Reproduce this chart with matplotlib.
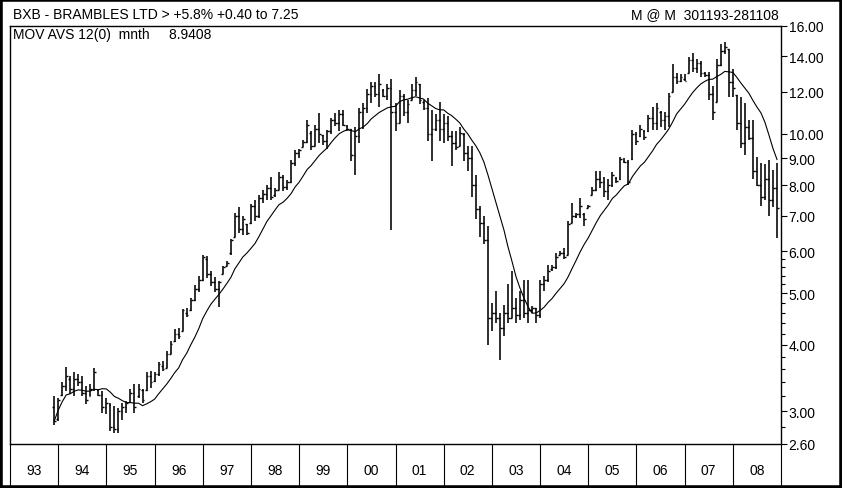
import numpy as np
import pandas as pd
import matplotlib
matplotlib.use("Agg")
import matplotlib.pyplot as plt
import matplotlib.transforms as mtransforms
from matplotlib.patches import Rectangle
from matplotlib.ticker import FixedLocator, FixedFormatter, NullFormatter

plt.rcParams['font.family'] = ['Liberation Sans', 'DejaVu Sans']

# monthly bars Nov 1993 .. Nov 2008 (month index counted from Jan 1993, drawn at month end)
first_month = 11
opens = [3.05, 2.90, 3.22, 3.35, 3.45, 3.30, 3.45, 3.40, 3.25, 3.20, 3.30, 3.28,
         3.22, 3.05, 3.08, 2.80, 2.78, 3.00, 3.05, 3.12, 3.25, 3.20, 3.28, 3.28,
         3.50, 3.42, 3.52, 3.65, 3.62, 3.85, 4.06, 4.20, 4.25, 4.60, 4.65, 4.86,
         5.10, 5.30, 5.80, 5.45, 5.25, 5.10, 5.45, 5.62, 5.95, 6.40, 7.00, 6.60,
         6.75, 6.80, 7.30, 7.00, 7.55, 7.70, 7.90, 7.65, 7.85, 8.30, 7.95, 8.10,
         8.80, 9.20, 9.46, 9.65, 10.05, 9.50, 10.20, 9.95, 9.70, 10.10, 10.60, 10.50,
         10.90, 10.35, 10.20, 9.10, 9.90, 11.00, 11.20, 11.90, 12.30, 11.90, 12.10, 11.80,
         12.20, 11.00, 10.50, 11.80, 11.00, 11.60, 12.10, 12.40, 11.50, 11.20, 10.00, 10.20,
         10.60, 10.20, 10.50, 9.90, 9.60, 9.50, 10.00, 9.20, 9.00, 8.00, 7.20, 6.80,
         6.30, 4.50, 4.60, 4.50, 4.30, 4.60, 4.50, 4.70, 4.55, 4.85, 4.60, 4.65,
         4.70, 4.55, 5.20, 5.30, 5.55, 5.60, 5.90, 5.95, 5.90, 6.80, 7.00, 7.05,
         7.05, 7.25, 7.65, 7.85, 8.20, 8.10, 7.80, 8.00, 8.25, 8.20, 8.90, 8.85,
         8.95, 10.00, 9.90, 10.10, 10.10, 10.70, 10.50, 11.00, 10.60, 10.80, 12.00, 12.80,
         12.60, 12.70, 13.00, 13.80, 13.30, 13.60, 13.00, 12.90, 11.90, 11.50, 13.50, 14.30,
         14.45, 12.50, 11.85, 10.50, 9.60, 10.30, 9.80, 8.50, 8.00, 7.60, 8.20, 7.50,
         7.90]
highs = [3.20, 3.17, 3.40, 3.63, 3.49, 3.55, 3.53, 3.49, 3.34, 3.38, 3.61, 3.30,
         3.27, 3.17, 3.10, 3.06, 3.04, 3.11, 3.13, 3.30, 3.38, 3.38, 3.30, 3.55,
         3.57, 3.55, 3.71, 3.73, 3.89, 4.07, 4.29, 4.31, 4.68, 4.70, 4.91, 5.19,
         5.40, 5.91, 5.89, 5.52, 5.36, 5.28, 5.64, 5.76, 6.34, 7.10, 7.26, 7.00,
         6.77, 7.38, 7.50, 7.65, 7.82, 8.00, 8.28, 7.89, 8.46, 8.35, 8.17, 8.92,
         9.30, 9.36, 9.73, 10.62, 10.10, 10.40, 10.96, 9.95, 10.17, 10.70, 10.96, 11.10,
         11.10, 10.40, 10.20, 10.30, 11.20, 11.45, 12.12, 12.50, 12.50, 12.94, 12.12, 12.39,
         12.66, 11.45, 12.10, 11.90, 11.60, 12.40, 12.80, 12.40, 11.60, 11.70, 11.10, 10.90,
         11.50, 10.90, 10.80, 10.10, 10.10, 10.30, 10.05, 9.50, 9.50, 8.35, 7.30, 7.00,
         6.70, 4.80, 5.05, 4.60, 4.75, 5.20, 5.50, 4.90, 5.05, 5.30, 5.30, 4.74,
         4.70, 5.30, 5.40, 5.65, 5.65, 5.95, 6.00, 6.10, 6.85, 7.40, 7.10, 7.55,
         7.10, 7.35, 7.95, 8.50, 8.50, 8.30, 8.20, 8.46, 8.27, 9.03, 9.00, 8.92,
         10.17, 10.08, 10.39, 10.17, 10.86, 11.25, 11.45, 11.05, 11.00, 11.96, 13.52, 12.99,
         12.94, 12.94, 13.95, 14.20, 13.83, 13.70, 13.10, 13.10, 12.30, 13.83, 14.77, 14.90,
         14.45, 13.23, 11.85, 11.75, 11.45, 10.62, 10.62, 9.03, 8.80, 8.76, 8.92, 8.54,
         8.80]
lows = [2.82, 2.87, 3.20, 3.27, 3.23, 3.20, 3.34, 3.20, 3.09, 3.20, 3.27, 3.20,
        2.98, 2.96, 2.75, 2.73, 2.73, 2.89, 2.98, 3.11, 2.98, 3.17, 3.11, 3.27,
        3.32, 3.40, 3.49, 3.57, 3.62, 3.85, 4.05, 4.11, 4.25, 4.51, 4.63, 4.84,
        5.02, 5.28, 5.34, 5.17, 5.03, 4.72, 5.45, 5.62, 5.90, 6.40, 6.50, 6.45,
        6.43, 6.77, 6.86, 6.95, 7.40, 7.50, 7.49, 7.60, 7.82, 7.80, 7.82, 8.06,
        8.70, 9.00, 9.46, 9.62, 9.32, 9.50, 9.62, 9.52, 9.36, 10.00, 10.35, 10.10,
        10.35, 10.10, 8.90, 8.35, 9.60, 10.20, 10.96, 11.45, 11.75, 11.25, 11.75, 11.60,
        6.57, 10.10, 10.50, 10.80, 10.50, 11.60, 11.80, 11.40, 11.10, 9.70, 8.90, 10.10,
        9.70, 9.60, 9.70, 8.70, 9.30, 9.50, 8.90, 8.50, 7.60, 6.90, 6.40, 6.20,
        4.00, 4.25, 4.40, 3.75, 4.15, 4.40, 4.50, 4.40, 4.45, 4.50, 4.40, 4.60,
        4.40, 4.50, 5.05, 5.25, 5.50, 5.55, 5.90, 5.80, 5.90, 6.80, 6.95, 6.95,
        6.70, 7.25, 7.65, 7.80, 7.90, 7.60, 7.50, 7.92, 8.09, 8.17, 8.80, 7.99,
        8.92, 9.52, 9.86, 9.73, 10.08, 10.17, 10.17, 10.30, 10.17, 10.30, 12.00, 12.39,
        12.50, 12.55, 13.00, 13.06, 13.00, 12.80, 12.80, 11.60, 10.62, 11.50, 13.40, 14.13,
        11.75, 11.75, 10.17, 9.40, 9.11, 9.73, 8.20, 7.96, 7.32, 7.49, 7.01, 7.28,
        6.36]
closes = [2.87, 3.15, 3.35, 3.50, 3.30, 3.45, 3.40, 3.25, 3.15, 3.30, 3.55, 3.22,
          3.05, 3.10, 2.80, 2.78, 3.00, 3.05, 3.10, 3.25, 3.05, 3.30, 3.15, 3.50,
          3.40, 3.52, 3.68, 3.60, 3.85, 4.02, 4.20, 4.15, 4.65, 4.55, 4.85, 5.10,
          5.30, 5.85, 5.45, 5.25, 5.10, 5.25, 5.60, 5.70, 6.30, 7.00, 6.60, 6.90,
          6.50, 7.30, 7.00, 7.55, 7.70, 7.90, 7.60, 7.85, 8.30, 7.95, 8.10, 8.80,
          9.20, 9.30, 9.65, 10.40, 9.50, 10.20, 10.00, 9.70, 10.10, 10.60, 10.50, 10.90,
          10.40, 10.20, 9.10, 9.90, 11.00, 11.20, 11.90, 12.30, 11.90, 12.40, 11.80, 12.20,
          11.00, 10.50, 11.80, 11.00, 11.40, 12.10, 12.50, 11.60, 11.20, 10.00, 10.20, 10.60,
          10.20, 10.50, 9.90, 9.60, 9.45, 10.05, 9.20, 9.00, 8.00, 7.20, 6.80, 6.30,
          4.50, 4.60, 4.50, 4.30, 4.60, 4.50, 4.70, 4.55, 4.85, 4.60, 4.65, 4.70,
          4.55, 5.20, 5.30, 5.50, 5.60, 5.85, 5.95, 5.85, 6.75, 7.00, 7.05, 7.30,
          6.90, 7.30, 7.85, 8.20, 8.10, 7.80, 8.00, 8.35, 8.15, 8.95, 8.85, 8.10,
          10.00, 9.70, 10.20, 9.85, 10.70, 10.50, 11.20, 10.60, 10.80, 11.80, 12.80, 12.60,
          12.80, 12.60, 13.80, 13.30, 13.60, 13.00, 12.90, 11.90, 11.00, 13.50, 14.30, 14.60,
          12.50, 12.20, 10.50, 9.60, 10.30, 9.80, 8.50, 8.00, 7.60, 8.20, 7.50, 7.90,
          7.25]

years = ['93', '94', '95', '96', '97', '98', '99', '00',
         '01', '02', '03', '04', '05', '06', '07', '08']
price_ticks = [2.6, 3, 4, 5, 6, 7, 8, 9, 10, 12, 14, 16]
minor_ticks = [2.8, 3.2, 3.4, 3.6, 3.8, 4.2, 4.4, 4.6, 4.8, 5.2, 5.4, 5.6, 5.8]
ma_len = 12

title = "BXB - BRAMBLES LTD > +5.8% +0.40 to 7.25"
right_title = "M @ M  301193-281108"
ma_label = "MOV AVS 12(0)  mnth     8.9408"

W, H = 842, 489
fig = plt.figure(figsize=(W / 100, H / 100), dpi=100)
fig.patch.set_facecolor('white')

# plot area in pixels: x 10..781, y 26.5..445
left, right, top, bottom = 10, 781, 26.5, 445
ax = fig.add_axes([left / W, 1 - bottom / H, (right - left) / W, (bottom - top) / H])

x = np.arange(len(closes)) + first_month
o = np.array(opens)
h = np.array(highs)
lo = np.array(lows)
c = np.array(closes)

# OHLC bars
ax.vlines(x, lo, h, color='black', lw=1.15)
ax.hlines(o, x - 0.45, x, color='black', lw=1.0)
ax.hlines(c, x, x + 0.45, color='black', lw=1.0)

# 12 month moving average
ma = pd.Series(closes).rolling(ma_len, min_periods=1).mean()
ax.plot(x, ma, color='black', lw=0.8)

ax.set_yscale('log')
ax.set_ylim(2.6, 16)
ax.set_xlim(0, 12 * len(years))

ax.yaxis.set_major_locator(FixedLocator(price_ticks))
ax.yaxis.set_major_formatter(FixedFormatter(['%.2f' % v for v in price_ticks]))
ax.yaxis.set_minor_locator(FixedLocator(minor_ticks))
ax.yaxis.set_minor_formatter(NullFormatter())
ax.yaxis.tick_right()
ax.tick_params(axis='y', which='major', direction='out', length=4, width=0.8,
               labelsize=10, pad=1.5)
ax.tick_params(axis='y', which='minor', direction='out', length=3, width=0.8)
ax.set_xticks([])
for s in ax.spines.values():
    s.set_linewidth(1.0)

# year strip under the chart
trans = mtransforms.blended_transform_factory(ax.transData, ax.transAxes)
strip = -(H - bottom) / (bottom - top)
for j in range(len(years) + 1):
    ax.plot([12 * j, 12 * j], [0, strip], transform=trans, color='black',
            lw=0.8, clip_on=False)
for j, yr in enumerate(years):
    ax.text(12 * j + 6, -(471 - bottom) / (bottom - top), yr, transform=trans,
            ha='center', va='center', fontsize=10)

# header texts
fig.text(13 / W, 1 - 15 / H, title, ha='left', va='center', fontsize=10)
fig.text(779 / W, 1 - 15 / H, right_title, ha='right', va='center', fontsize=10)
fig.text(13 / W, 1 - 35 / H, ma_label, ha='left', va='center', fontsize=10)

# outer frame
fig.patches.append(Rectangle((0, 0), 1, 1, transform=fig.transFigure, fill=False,
                             edgecolor='black', lw=4))

fig.savefig('out.png', dpi=100)
